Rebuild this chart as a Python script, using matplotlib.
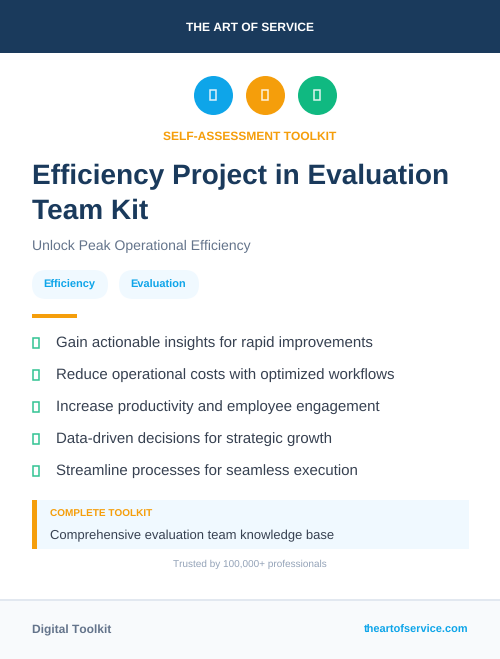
import matplotlib
matplotlib.use("Agg")
import matplotlib.pyplot as plt
from matplotlib.patches import Rectangle, Circle, FancyBboxPatch

W, H = 500, 659
plt.rcParams['font.family'] = ['Liberation Sans', 'DejaVu Sans']
plt.rcParams['text.hinting'] = 'no_hinting'
plt.rcParams['text.hinting_factor'] = 1

NAVY = '#1a3a5c'
BLUE = '#0ea5e9'
ORANGE = '#f59e0b'
GREEN = '#10b981'

header_text = "THE ART OF SERVICE"
kicker = "SELF-ASSESSMENT TOOLKIT"
title_lines = ["Efficiency Project in Evaluation", "Team Kit"]
subtitle = "Unlock Peak Operational Efficiency"
tags = ["Efficiency", "Evaluation"]
bullets = [
    "Gain actionable insights for rapid improvements",
    "Reduce operational costs with optimized workflows",
    "Increase productivity and employee engagement",
    "Data-driven decisions for strategic growth",
    "Streamline processes for seamless execution",
]
callout_head = "COMPLETE TOOLKIT"
callout_body = "Comprehensive evaluation team knowledge base"
trust = "Trusted by 100,000+ professionals"
footer_left = "Digital Toolkit"
footer_right = "theartofservice.com"
icon_colors = [BLUE, ORANGE, GREEN]

fig = plt.figure(figsize=(W / 100, H / 100), dpi=100, facecolor='white')
ax = fig.add_axes([0, 0, 1, 1])
ax.set_xlim(0, W)
ax.set_ylim(H, 0)
ax.axis('off')


def px(s):
    return s * 0.72


def rect(x, y, w, h, color, **kw):
    ax.add_patch(Rectangle((x, y), w, h, facecolor=color, edgecolor='none', **kw))


def text(x, y, s, size, color, weight='normal', ha='left'):
    return ax.text(x, y, s, fontsize=px(size), color=color, fontweight=weight,
                   ha=ha, va='baseline')


def pill(x, y, w, h, color):
    r = h / 2
    ax.add_patch(FancyBboxPatch((x + r, y + r), w - 2 * r, 0,
                                boxstyle=f"round,pad={r},rounding_size={r}",
                                facecolor=color, edgecolor='none'))


# header
rect(0, 0, W, 53, NAVY)
text(250, 31, header_text, 12, 'white', 'bold', 'center')

# icons
for cx, c in zip([213.5, 265.5, 317.5], icon_colors):
    ax.add_patch(Circle((cx, 95.5), 19.5, facecolor=c, edgecolor='none'))
    ax.add_patch(Rectangle((cx - 3.4, 90.3), 5.5, 9.6, facecolor='none',
                           edgecolor='#ffffff', linewidth=1.1, alpha=0.85))

text(249.5, 140, kicker, 12, ORANGE, 'bold', 'center')

# title
text(32, 184, title_lines[0], 27.7, NAVY, 'bold')
text(32, 219, title_lines[1], 27.7, NAVY, 'bold')
text(32, 250, subtitle, 14.05, '#64748b')

# tags
for (x, w), t in zip([(32, 76), (119, 80)], tags):
    pill(x, 270, w, 29, '#f0f9ff')
    text(x + w / 2 - 0.5, 288, t, 11, BLUE, 'bold', 'center')

rect(32, 314, 45, 4, ORANGE)

# bullets
for i, b in enumerate(bullets):
    y = 342 + 32 * i
    ax.add_patch(Rectangle((33, y - 4), 5.5, 9.6, facecolor='none',
                           edgecolor=GREEN, linewidth=1.1, alpha=0.85))
    text(56, y + 5, b, 15.2, '#374151')

# callout
rect(32, 500, 437, 49, '#f0f9ff')
rect(32, 500, 5, 49, ORANGE)
text(50, 516.5, callout_head, 10.2, ORANGE, 'bold')
text(50, 539, callout_body, 13, '#374151')

text(250, 567, trust, 10, '#94a3b8', 'normal', 'center')

# footer
rect(0, 600, W, 59, '#f8fafc')
rect(0, 599, W, 2, '#e2e8f0')
text(32, 633, footer_left, 11.7, '#64748b', 'bold')
text(468, 633, footer_right, 11, BLUE, 'bold', 'right')

fig.savefig('out.png', dpi=100, facecolor='white')
